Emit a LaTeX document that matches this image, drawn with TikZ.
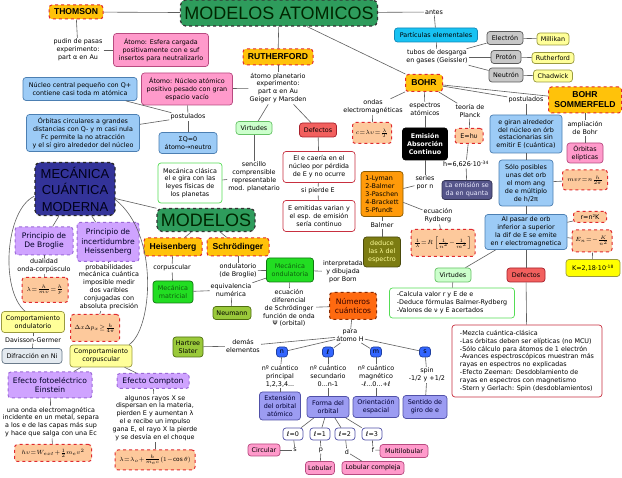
\documentclass[tikz,border=0pt]{standalone}
\usepackage{fontspec}
\setmainfont{DejaVu Sans}
\newfontfamily\arialf{Liberation Sans}

\definecolor{lncol}{HTML}{5E5E5E}
\definecolor{orfill}{HTML}{FFC20A}
\definecolor{redln}{HTML}{E02A2E}
\definecolor{pinkf}{HTML}{FF9ACB}
\definecolor{pinkd}{HTML}{B84A80}
\definecolor{bluef}{HTML}{9CCBF6}
\definecolor{blued}{HTML}{4C7FB2}
\definecolor{peach}{HTML}{FDC99C}
\definecolor{virtf}{HTML}{CCFFCC}
\definecolor{virtd}{HTML}{66C266}
\definecolor{deff}{HTML}{F2605E}
\definecolor{defd}{HTML}{A8202C}
\definecolor{grnd}{HTML}{55DD55}
\definecolor{redd}{HTML}{C83040}
\definecolor{grayf}{HTML}{C8C8C8}
\definecolor{grayd}{HTML}{5A5A5A}
\definecolor{yelf}{HTML}{FFFF99}
\definecolor{yeld}{HTML}{9A9A40}
\definecolor{cyanf}{HTML}{18C2F2}
\definecolor{cyand}{HTML}{1088B8}
\definecolor{lyf}{HTML}{FF9A0A}
\definecolor{lyd}{HTML}{8A5A00}
\definecolor{slatef}{HTML}{55558A}
\definecolor{olivef}{HTML}{7C7C12}
\definecolor{kf}{HTML}{FFFF00}
\definecolor{matf}{HTML}{22DD22}
\definecolor{matd}{HTML}{117711}
\definecolor{neumf}{HTML}{9AC93A}
\definecolor{neumd}{HTML}{4F6F10}
\definecolor{numf}{HTML}{FF6A10}
\definecolor{numd}{HTML}{8A2A00}
\definecolor{qf}{HTML}{3366FF}
\definecolor{qd}{HTML}{1F3FA0}
\definecolor{purf}{HTML}{9C9CF2}
\definecolor{purd}{HTML}{5050A8}
\definecolor{lavf}{HTML}{CFA3FF}
\definecolor{lavd}{HTML}{9C6AD8}
\definecolor{difrf}{HTML}{E4EAF0}
\definecolor{difrd}{HTML}{6A7A8A}
\definecolor{mcmf}{HTML}{333399}
\definecolor{titf}{HTML}{2E9C5C}

\newcommand\fs{\fontsize{6.4}{7.9}\selectfont}
\newcommand\mathfs{\fontsize{5.8}{7}\selectfont\thickmuskip=1mu\medmuskip=0.5mu}
\newcommand\medfont{\fontsize{7.6}{9.6}\selectfont}
\newcommand\namefont{\arialf\bfseries\fontsize{8.6}{10}\selectfont}
\newcommand\bigfont{\arialf\fontsize{18}{20}\selectfont}
\newcommand\mcmfont{\arialf\fontsize{13}{16.5}\selectfont}

\begin{document}
\begin{tikzpicture}[x=1pt, y=-1pt,
    every node/.style={font=\fs, align=center, inner sep=1pt},
    ln/.style={draw=lncol, line width=0.6pt},
    wh/.style 2 args={minimum width=#1pt, minimum height=#2pt},
    bx/.style={draw, rounded corners=3pt, line width=0.7pt, inner sep=1.5pt},
    titulo/.style={bx, fill=titf, draw=black!80, dashed, line width=1.2pt, rounded corners=5pt, font=\bigfont, text=black!85!green},
    cientif/.style={bx, fill=orfill, draw=redln, dashed, line width=1pt, font=\namefont},
    rosa/.style={bx, fill=pinkf, draw=pinkd},
    azul/.style={bx, fill=bluef, draw=blued},
    formula/.style={bx, fill=peach, draw=redln, dashed, line width=1pt, font=\mathfs},
    virt/.style={bx, fill=virtf, draw=virtd},
    defe/.style={bx, fill=deff, draw=defd},
    verde/.style={bx, fill=white, draw=grnd},
    rojo/.style={bx, fill=white, draw=redd},
    gris/.style={bx, fill=grayf, draw=grayd},
    amar/.style={bx, fill=yelf, draw=yeld},
    mate/.style={bx, fill=matf, draw=matd, text=matd!80!black},
    neum/.style={bx, fill=neumf, draw=neumd},
    numc/.style={bx, fill=qf, draw=qd, wh={11}{10}, inner sep=0pt},
    morado/.style={bx, fill=purf, draw=purd, text=black!80!blue},
    lbox/.style={bx, fill=white, draw=purd, wh={20}{12}},
    lila/.style={bx, fill=lavf, draw=lavd, dashed, line width=1pt, font=\medfont, text=black!85!blue}]

  \fill[white] (0,0) rectangle (622,478);
  \useasboundingbox (0,0) rectangle (622,478);

  % titulo y modelos clasicos
  \node[titulo, wh={197}{26}] (tit) at (279,13) {MODELOS ATOMICOS};
  \node[cientif, wh={54}{14}] (thom) at (76,12) {THOMSON};
  \node (thomtxt) at (78,50) {pudin de pasas\\experimento:\\part α en Au};
  \node[rosa, wh={95}{33}] (thomat) at (161,50) {Átomo: Esfera cargada\\positivamente con e suf\\insertos para neutralizarlo};
  \node[cientif, wh={70}{16}] (ruth) at (278,57) {RUTHERFORD};
  \node (ruthtxt) at (278,88) {átomo planetario\\experimento:\\part α en Au\\Geiger y Marsden};
  \node[rosa, wh={91}{32}] (ruthat) at (187,89) {Átomo: Núcleo atómico\\positivo pesado con gran\\espacio vacío};
  \node (post1) at (188,117) {postulados};
  \node[azul, wh={114}{23}] (nuc) at (80,89) {Núcleo central pequeño con Q+\\contiene casi toda m atómica};
  \node[azul, wh={113}{37}] (orb) at (83,133) {Órbitas circulares a grandes\\distancias con Q- y m casi nula\\Fc permite la no atracción\\y el sí giro alrededor del núcleo};
  \node[azul, wh={58}{21}] (sq) at (188,143) {ΣQ=0\\átomo→neutro};
  \node[virt, wh={36}{13}] (virt1) at (254,128) {Virtudes};
  \node[defe, wh={37}{14}] (def1) at (318,130) {Defectos};
  \node (senc) at (254,177) {sencillo\\comprensible\\representable\\mod. planetario};
  \node[verde, wh={64}{40}] (mcl) at (190,183) {Mecánica clásica\\el e gira con las\\leyes físicas de\\los planetas};
  \node[rojo, wh={72}{31}] (caer) at (319,167) {El e caería en el\\núcleo por pérdida\\de E y no ocurre};
  \node (sip) at (318,191) {si pierde E};
  \node[rojo, wh={72}{31}] (emit) at (319,216) {E emitidas varian y\\el esp. de emisión\\sería continuo};

  % particulas
  \node (antes) at (434,12) {antes};
  \node[bx, fill=cyanf, draw=cyand, wh={83}{14}] (part) at (436,35) {Partículas elementales};
  \node (tubos) at (437,57) {tubos de desgarga\\en gases (Geissler)};
  \node[gris, wh={36}{13}] (elec) at (505,38) {Electrón};
  \node[gris, wh={30}{13}] (prot) at (506,57) {Protón};
  \node[gris, wh={34}{14}] (neut) at (506,75) {Neutrón};
  \node[amar, wh={32}{12}] (mill) at (553,39) {Millikan};
  \node[amar, wh={42}{11}] (ruth2) at (553,58) {Rutherford};
  \node[amar, wh={39}{12}] (chad) at (553,76) {Chadwick};

  % Bohr
  \node[cientif, wh={37}{17}] (bohr) at (424,83) {BOHR};
  \node (ondas) at (373,107) {ondas\\electromagnéticas};
  \node[formula, wh={39}{21}] (cform) at (372,133) {$c=\lambda\upsilon=\frac{\lambda}{T}$};
  \node (espec) at (425,109) {espectros\\atómicos};
  \node[bx, fill=black, draw=black, text=white, font=\fs\bfseries, wh={45}{32}] (emis) at (425,144) {Emisión\\Absorción\\Continuo};
  \node (series) at (425,183) {series\\por n};
  \node[bx, fill=lyf, draw=lyd, align=left, wh={42}{45}] (lyman) at (382,194) {1-Lyman\\2-Balmer\\3-Paschen\\4-Brackett\\5-Pfundt};
  \node (balmer) at (382,225) {Balmer};
  \node[bx, fill=olivef, draw=olivef!60!black, text=yelf, wh={37}{30}] (deduce) at (382,252) {deduce\\las λ del\\espectro};
  \node (rydtxt) at (438,216) {ecuación\\Rydberg};
  \node[formula, wh={64}{27}] (rydf) at (443,243) {$\frac{1}{\lambda}=R\left[\frac{1}{n^2}-\frac{1}{m^2}\right]$};
  \node (planck) at (470,111) {teoría de\\Planck};
  \node[formula, font=\fs, wh={28}{15}] (ehv) at (469,136) {E=hυ};
  \node (hconst) at (466,164) {h=6,626·10\textsuperscript{-34}};
  \node[bx, fill=slatef, draw=slatef!60!black, text=blue!8!white, wh={50}{19}] (quanta) at (467,190) {La emisión se\\da en quanta};
  \node (post2) at (526,100) {postulados};
  \node[cientif, wh={73}{26}] (bs) at (585,100) {BOHR\\SOMMERFELD};
  \node (ampl) at (585,128) {ampliación\\de Bohr};
  \node[rosa, wh={36}{20}] (elip) at (585,153) {Órbitas\\elípticas};
  \node[azul, wh={72}{38}] (giran) at (526,134) {e giran alrededor\\del núcleo en órb\\estacionarias sin\\emitir E (cuántica)};
  \node[azul, wh={54}{46}] (solo) at (526,183) {Sólo posibles\\unas det orb\\el mom ang\\de e múltiplo\\de h/2π};
  \node[formula, wh={45}{20}] (mvr) at (585,180) {$mvr=n\frac{h}{2\pi}$};
  \node[azul, wh={82}{35}] (pasar) at (526,232) {Al pasar de orb\\inferior a superior\\la dif de E se emite\\en r electromagnetica};
  \node[formula, font=\fs, wh={33}{11}] (rk) at (590,217) {r=n²K};
  \node[formula, wh={40}{22}] (en) at (592,241) {$E_n=-\frac{K}{n^2}$};
  \node[bx, fill=kf, draw=yeld, wh={54}{17}] (kval) at (593,268) {K=2,18·10\textsuperscript{-18}};
  \node[virt, wh={36}{14}] (virt2) at (453,275) {Virtudes};
  \node[defe, wh={38}{14}] (def2) at (526,275) {Defectos};
  \node[verde, align=left, wh={125}{30}] (virtxt) at (452,303) {-Calcula valor r y E de e\\-Deduce fórmulas Balmer-Rydberg\\-Valores de ν y E acertados};
  \node[rojo, align=left, wh={150}{72}] (deftxt) at (527,361) {-Mezcla cuántica-clásica\\-Las órbitas deben ser elípticas (no MCU)\\-Sólo cálculo para átomos de 1 electrón\\-Avances espectroscópicos muestran más\\rayas en espectros no explicadas\\-Efecto Zeeman: Desdoblamiento de\\rayas en espectros con magnetismo\\-Stern y Gerlach: Spin (desdoblamientos)};

  % mecanica cuantica
  \node[bx, fill=mcmf, draw=black!85, dashed, line width=1.2pt, rounded corners=5pt, font=\mcmfont, text=black!90!blue, wh={80}{53}] (mcm) at (75,189) {MECÁNICA\\CUÁNTICA\\MODERNA};
  \node[titulo, wh={98}{23}] (mod) at (206,220) {MODELOS};
  \node[cientif, wh={58}{18}] (heis) at (173,247) {Heisenberg};
  \node[cientif, wh={62}{18}] (schr) at (238,247) {Schrödinger};
  \node (corp) at (172,268) {corpuscular};
  \node[mate, wh={40}{22}] (matr) at (173,292) {Mecánica\\matricial};
  \node (ondtxt) at (238,271) {ondulatorio\\(de Broglie)};
  \node[mate, wh={47}{24}] (mond) at (290,270) {Mecánica\\ondulatoria};
  \node (equiv) at (231,290) {equivalencia\\numérica};
  \node[neum, wh={38}{13}] (neum) at (232,313) {Neumann};
  \node (interp) at (343,272) {interpretada\\y dibujada\\por Born};
  \node (ecdif) at (289,308) {ecuación\\diferencial\\de Schrödinger\\función de onda\\Ψ (orbital)};
  \node[bx, fill=numf, draw=numd, dashed, line width=1pt, font=\medfont, text=black!80!red, wh={47}{27}] (numq) at (353,306) {Números\\cuánticos};
  \node (para) at (350,336) {para\\átomo H};
  \node (demas) at (243,346) {demás\\elementos};
  \node[neum, wh={30}{20}] (hart) at (188,347) {Hartree\\Slater};

  % numeros cuanticos
  \node[numc] (qn) at (282,352) {n};
  \node[numc] (ql) at (328,352) {ℓ};
  \node[numc] (qm) at (376,352) {m};
  \node[numc] (qs) at (425,352) {s};
  \node (tn) at (280,376) {nº cuántico\\principal\\1,2,3,4...};
  \node (tl) at (328,376) {nº cuántico\\secundario\\0...n-1};
  \node (tm) at (376,376) {nº cuántico\\magnético\\-ℓ...0...+ℓ};
  \node (ts) at (427,375) {spin\\-1/2 y +1/2};
  \node[morado, wh={41}{28}] (ext) at (280,406) {Extensión\\del orbital\\atómico};
  \node[morado, wh={42}{21}] (forma) at (328,407) {Forma del\\orbital};
  \node[morado, wh={46}{21}] (orient) at (376,407) {Orientación\\espacial};
  \node[morado, wh={44}{23}] (sent) at (425,407) {Sentido de\\giro de e};
  \node[lbox] (l0) at (293,434) {ℓ=0};
  \node[lbox] (l1) at (320,434) {ℓ=1};
  \node[lbox] (l2) at (345,434) {ℓ=2};
  \node[lbox] (l3) at (372,434) {ℓ=3};
  \node (ls) at (295,450) {s};
  \node (lp) at (321,450) {p};
  \node (ld) at (347,452) {d};
  \node (lf) at (373,450) {f};
  \node[rosa, wh={32}{12}] (circ) at (264,450) {Circular};
  \node[rosa, wh={29}{13}] (lob) at (320,468) {Lobular};
  \node[rosa, wh={62}{13}] (lobc) at (373,468) {Lobular compleja};
  \node[rosa, wh={48}{13}] (multi) at (404,451) {Multilobular};

  % principios y efectos
  \node[lila, wh={58}{28}] (pdb) at (44,241) {Principio de\\De Broglie};
  \node[lila, wh={62}{39}] (pinc) at (108,242) {Principio de\\incertidumbre\\Heissenberg};
  \node (dual) at (44,266) {dualidad\\onda-corpúsculo};
  \node[formula, wh={46}{25}] (lamb) at (45,290) {$\lambda=\frac{h}{m\upsilon}=\frac{h}{p}$};
  \node (prob) at (109,287) {probabilidades\\mecánica cuántica\\imposible medir\\dos varibles\\conjugadas con\\absoluta precisión};
  \node[formula, wh={49}{27}] (dx) at (95,328) {$\Delta x\Delta p_x\geq\frac{h}{4\pi}$};
  \node[amar, wh={63}{21}] (cond) at (33,322) {Comportamiento\\ondulatorio};
  \node (davis) at (33,340) {Davisson-Germer};
  \node[bx, fill=difrf, draw=difrd, wh={60}{15}] (difr) at (32,356) {Difracción en Ni};
  \node[amar, wh={62}{22}] (ccorp) at (101,356) {Comportamiento\\corpuscular};
  \node[lila, wh={84}{26}] (fotoe) at (50,385) {Efecto fotoeléctrico\\Einstein};
  \node[lila, wh={72}{15}] (compt) at (153,381) {Efecto Compton};
  \node (fototxt) at (51,422) {una onda electromagnética\\incidente en un metal, separa\\a los e de las capas más sup\\y hace que salga con una Ec};
  \node (comptxt) at (155,418) {algunos rayos X se\\dispersan en la materia,\\pierden E y aumentan λ\\el e recibe un impulso\\gana E, el rayo X la pierde\\y se desvía en el choque};
  \node[formula, wh={77}{17}] (hvf) at (53,453) {$h\upsilon=W_{ext}+\frac{1}{2}m_e v^2$};
  \node[formula, wh={80}{20}] (compf) at (155,460) {$\lambda=\lambda_o+\frac{h}{m_e c}(1-\cos\theta)$};

  % conexiones
  \draw[ln] (tit) edge (thom) edge (ruth) edge (bohr) edge (antes);
  \draw[ln] (thom) edge (thomtxt);
  \draw[ln] (thomtxt) edge (thomat);
  \draw[ln] (ruth) edge (ruthtxt);
  \draw[ln] (ruthtxt) edge (ruthat) edge (virt1) edge (def1);
  \draw[ln] (post1) edge (ruthat) edge (nuc) edge (orb) edge (sq);
  \draw[ln] (virt1) edge (senc);
  \draw[ln] (senc) edge (mcl);
  \draw[ln] (def1) edge (caer);
  \draw[ln] (sip) edge (caer) edge (emit);
  \draw[ln] (antes) edge (part);
  \draw[ln] (part) edge (tubos);
  \draw[ln] (tubos) edge (elec) edge (prot) edge (neut);
  \draw[ln] (elec) edge (mill);
  \draw[ln] (prot) edge (ruth2);
  \draw[ln] (neut) edge (chad);
  \draw[ln] (bohr) edge (ondas) edge (espec) edge (planck)
                   edge (post2) edge (bs);
  \draw[ln] (ondas) edge (cform);
  \draw[ln] (espec) edge (emis);
  \draw[ln] (series) edge (emis) edge (lyman);
  \draw[ln] (balmer) edge (lyman) edge (deduce);
  \draw[ln] (rydtxt) edge (lyman) edge (rydf);
  \draw[ln] (planck) edge (ehv);
  \draw[ln] (hconst) edge (ehv) edge (quanta);
  \draw[ln] (post2) edge (giran);
  \draw[ln] (ampl) edge (bs) edge (elip);
  \draw[ln] (solo) edge (giran) edge (mvr) edge (pasar);
  \draw[ln] (pasar) edge (rk) edge (en) edge (virt2) edge (def2);
  \draw[ln] (en) edge (kval);
  \draw[ln] (virt2) edge (virtxt);
  \draw[ln] (def2) edge (deftxt);
  \draw[ln] (mcm) edge (mod) edge (pdb) edge (pinc);
  \draw[ln] (mod) edge (heis) edge (schr);
  \draw[ln] (corp) edge (heis) edge (matr);
  \draw[ln] (equiv) edge (matr) edge (mond) edge (neum);
  \draw[ln] (ondtxt) edge (schr) edge (mond);
  \draw[ln] (mond) edge (interp) edge (ecdif);
  \draw[ln] (ecdif) edge (numq);
  \draw[ln] (para) edge (numq) edge (demas) edge (qn) edge (ql) edge (qm) edge (qs);
  \draw[ln] (demas) edge (hart);
  \draw[ln] (tn) edge (qn) edge (ext);
  \draw[ln] (tl) edge (ql) edge (forma);
  \draw[ln] (tm) edge (qm) edge (orient);
  \draw[ln] (ts) edge (qs) edge (sent);
  \draw[ln] (forma) edge (l0) edge (l1) edge (l2) edge (l3);
  \draw[ln] (ls) edge (l0) edge (circ);
  \draw[ln] (lp) edge (l1) edge (lob);
  \draw[ln] (ld) edge (l2) edge (lobc);
  \draw[ln] (lf) edge (l3) edge (multi);
  \draw[ln] (dual) edge (pdb) edge (lamb);
  \draw[ln] (prob) edge (pinc) edge (dx);
  \draw[ln] (mcm.190) .. controls (5,210) and (0,290) .. ([xshift=-8pt]cond.north);
  \draw[ln] (mcm.-15) .. controls (160,235) and (152,330) .. ([xshift=28pt]ccorp.north);
  \draw[ln] (davis) edge (cond) edge (difr);
  \draw[ln] (ccorp) edge (fotoe) edge (compt);
  \draw[ln] (fototxt) edge (fotoe) edge (hvf);
  \draw[ln] (comptxt) edge (compt) edge (compf);
\end{tikzpicture}
\end{document}
